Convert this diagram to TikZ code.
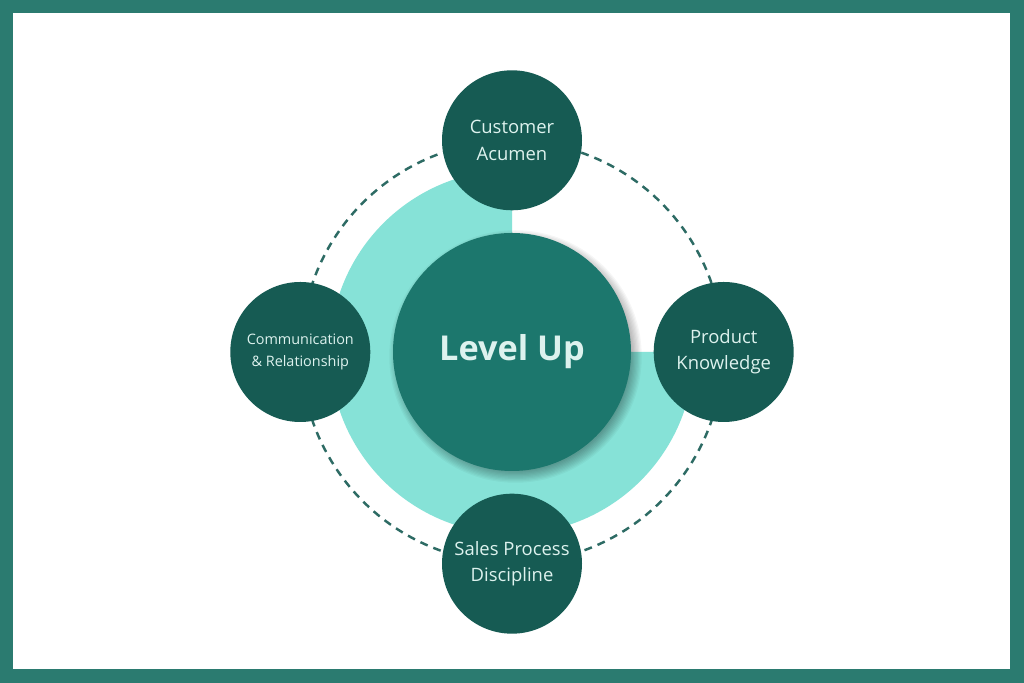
\documentclass[tikz,border=0pt]{standalone}
\usepackage{fontspec}
\setmainfont{Open Sans}
\usetikzlibrary{positioning}
\definecolor{framegreen}{HTML}{2B7B70}
\definecolor{darkteal}{HTML}{165B53}
\definecolor{midteal}{HTML}{1C776D}
\definecolor{mint}{HTML}{86E2D7}
\definecolor{dashteal}{HTML}{2D6B64}
\definecolor{paletext}{HTML}{DDF2EE}

\begin{document}
\begin{tikzpicture}
	\tikzstyle{skill}=[circle, fill=darkteal, minimum size=2.8cm, inner sep=0pt, align=center, text=paletext, font=\fontsize{10.5}{15}\selectfont]
	\tikzstyle{hub}=[circle, fill=midteal, minimum size=4.76cm, inner sep=0pt, text=paletext, font=\fontsize{19.5}{24}\selectfont\bfseries]
	% frame and page
	\fill[framegreen] (0,0) rectangle (20.48,13.66);
	\fill[white] (0.26,0.28) rectangle (20.20,13.40);
	\useasboundingbox (0,0) rectangle (20.48,13.66);
	\coordinate (c) at (10.24,6.62);
	% three-quarter ring and dashed orbit
	\fill[mint] (c) -- ++(90:3.64) arc[start angle=90, end angle=360, radius=3.64cm] -- cycle;
	\draw[dashteal, line width=1.4pt, dash pattern=on 4.5pt off 3.5pt] (c) circle[radius=4.22cm];
	% soft shadow under the hub
	\foreach \r in {0,...,9}
		\fill[black, opacity=0.035] ([shift={(0.07,-0.09)}]c) circle[radius=2.30cm+\r*0.025cm];
	\node[hub] (lvl) at (c) {Level Up};
	\node[skill] (cust) [above=0.44cm of lvl] {Customer\\Acumen};
	\node[skill] (prod) [right=0.44cm of lvl] {Product\\Knowledge};
	\node[skill] (sales) [below=0.44cm of lvl] {Sales Process\\Discipline};
	\node[skill, font=\fontsize{8.2}{12}\selectfont] (comm) [left=0.44cm of lvl] {Communication\\\& Relationship};
\end{tikzpicture}
\end{document}
